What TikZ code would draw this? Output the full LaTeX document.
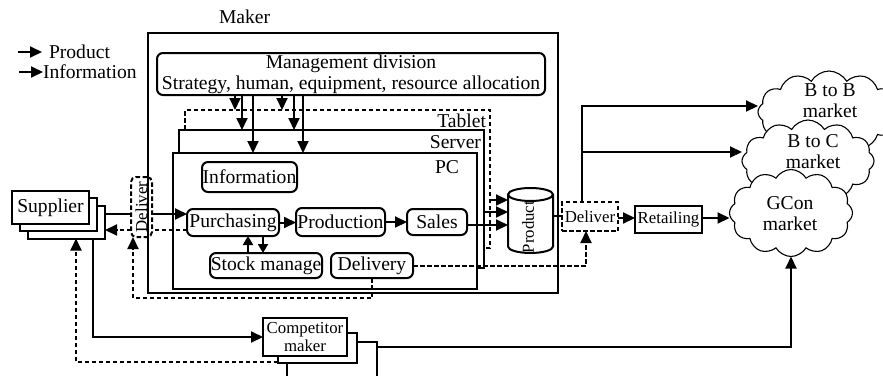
\documentclass[tikz,border=0pt]{standalone}
\usepackage{fontspec}
\setmainfont{Liberation Serif}
\usepackage{graphicx}
\usetikzlibrary{arrows.meta,shapes.symbols,calc}
\newcommand\mainsz{\fontsize{19.6}{21}\selectfont}
\newcommand\smallsz{\fontsize{16.8}{17.5}\selectfont}

\begin{document}
\begin{tikzpicture}[x=1pt,y=-1pt,
  every node/.style={font=\mainsz, inner sep=0pt, outer sep=0pt},
  lw/.style={line width=2pt},
  dsh/.style={line width=2pt, dash pattern=on 4.5pt off 2.5pt},
  box/.style={draw, line width=2pt, fill=white},
  rbox/.style={box, rounded corners=6pt},
  sz/.style 2 args={minimum width=#1, minimum height=#2},
  arr/.style={-{Triangle[length=12pt,width=11pt]}},
  sarr/.style={-{Triangle[length=9pt,width=10pt]}},
  puff/.style={cloud, draw, fill=white, line width=1.1pt, cloud puffs=12,
    cloud puff arc=120, cloud ignores aspect}]
\useasboundingbox (0,0) rectangle (883,375);
\clip (0,0) rectangle (883,375);

% legend
\node[anchor=west] (lgprod) at (49,52) {Product};
\node[anchor=west] (lginfo) at (43,72) {Information};
\coordinate (lgprodtail) at (18,52);
\coordinate (lginfotail) at (19,72);
\draw[lw,arr,shorten >=7pt] (lgprodtail) -- (lgprod.west);
\draw[lw,arr] (lginfotail) -- (lginfo.west);

% maker and its layers
\node[box, sz={410}{260}] (maker) at (353,163) {};
\node[anchor=west] (makerlbl) at (219,17) {Maker};
\node[rbox, sz={388}{42}, align=center] (mgmt) at (351,74)
  {Management division\\Strategy, human, equipment, resource allocation};
\node[box, dsh, sz={305}{138}] (tablet) at (337.5,179) {};
\node[anchor=east] (tabletlbl) at (486,121) {Tablet};
\node[box, sz={305}{138}] (server) at (331.5,199) {};
\node[anchor=east] (serverlbl) at (481,142) {Server};
\node[box, sz={304}{136}] (pc) at (325,221) {};
\node (pclbl) at (447,167) {PC};

% functions on the PC
\node[rbox, sz={95}{30}] (info) at (249.5,177) {Information};
\node[rbox, sz={92}{27}] (purch) at (233,222.5) {Purchasing};
\node[rbox, sz={89}{28}] (produc) at (340.5,222) {Production};
\node[rbox, sz={60}{26}] (sales) at (437,222) {Sales};
\node[rbox, sz={112}{25}] (stock) at (266,265.5) {Stock manage};
\node[rbox, sz={82}{25}] (deliv) at (372,265.5) {Delivery};

% inbound deliver
\node[draw, dsh, rounded corners=5pt, sz={21}{60}, font=\smallsz] (dl) at (141.5,207) {\rotatebox{90}{Deliver}};

% product store
\node[sz={45}{65}] (cyl) at (530.5,220.5) {};
\draw[lw, fill=white] ($(cyl.north west)+(0,6.5)$) -- ($(cyl.south west)+(0,-6.5)$)
  arc[start angle=180, end angle=360, x radius=22.5pt, y radius=6.5pt]
  -- ($(cyl.north east)+(0,6.5)$)
  arc[start angle=0, end angle=180, x radius=22.5pt, y radius=6.5pt] -- cycle;
\draw[lw] ($(cyl.north west)+(0,6.5)$) arc[start angle=180, end angle=360, x radius=22.5pt, y radius=6.5pt];
\node[font=\smallsz] (cyltxt) at (528,227) {\rotatebox{90}{Product}};

% outbound chain
\node[draw, dsh, fill=white, sz={56}{29}, font=\smallsz] (dr) at (590,216.5) {Deliver};
\node[box, sz={67}{27}, font=\smallsz] (retail) at (668.5,219.5) {Retailing};

% suppliers
\node[box, sz={77}{33}] (sup3) at (66.5,222) {};
\node[box, sz={77}{33}] (sup2) at (58.5,214.5) {};
\node[box, sz={77}{33}] (sup1) at (50.5,207.5) {Supplier};

% competitors
\node[box, sz={90}{45}] (comp3) at (332,364.5) {};
\node[box, sz={79}{30}] (comp2) at (317.5,348) {};
\node[box, sz={84}{38}, font=\smallsz, align=center] (comp1) at (305,337) {Competitor\\maker};

% markets
\node[puff, sz={142}{82}] (bb) at (829,112) {};
\node[puff, sz={132}{82}] (bc) at (808,161) {};
\node[puff, sz={123}{87}] (gc) at (791,213) {};
\node[align=center] (bbtxt) at (830,101) {B to B\\market};
\node[align=center] (bctxt) at (813,152) {B to C\\market};
\node[align=center] (gctxt) at (790,214) {GCon\\market};

% helper positions
\coordinate (xm1) at (235,0); \coordinate (xm2) at (242,0); \coordinate (xm3) at (253,0);
\coordinate (xm4) at (282,0); \coordinate (xm5) at (294,0); \coordinate (xm6) at (303,0);
\coordinate (x248) at (248,0); \coordinate (x263) at (263,0);
\coordinate (x582) at (582,0); \coordinate (x586) at (586,0);
\coordinate (x133) at (133,0); \coordinate (x93) at (93,0); \coordinate (x76) at (76,0);
\coordinate (y106) at (0,106); \coordinate (y152) at (0,152);
\coordinate (y200) at (0,200); \coordinate (y212) at (0,212); \coordinate (y225) at (0,225);
\coordinate (y214) at (0,214); \coordinate (y216) at (0,216); \coordinate (y218) at (0,218);
\coordinate (y230) at (0,230); \coordinate (y298) at (0,298);
\coordinate (y347) at (0,347); \coordinate (y362) at (0,362);

% management directives
\draw[lw,arr] (mgmt.south -| xm1) -- (tablet.north -| xm1);
\draw[lw,arr] (mgmt.south -| xm2) -- (server.north -| xm2);
\draw[lw,arr] (mgmt.south -| xm3) -- (pc.north -| xm3);
\draw[lw,arr] (mgmt.south -| xm4) -- (tablet.north -| xm4);
\draw[lw,arr] (mgmt.south -| xm5) -- (server.north -| xm5);
\draw[lw,arr] (mgmt.south -| xm6) -- (pc.north -| xm6);

% internal flow
\draw[lw,arr] (purch.east) -- (produc.west |- purch.east);
\draw[lw,arr] (produc.east) -- (sales.west |- produc.east);
\draw[lw,sarr] (stock.north -| x248) -- (purch.south -| x248);
\draw[lw,sarr] (purch.south -| x263) -- (stock.north -| x263);

% into the product store
\draw[lw,arr] (tablet.east |- y200) -- (cyl.west |- y200);
\draw[lw,arr] (server.east |- y212) -- (cyl.west |- y212);
\draw[lw,arr] (sales.east |- y225) -- (cyl.west |- y225);

% to the markets
\draw[lw] (cyl.east |- y216) -- (dr.west |- y216);
\draw[lw,arr] (dr.east |- y218) -- (retail.west |- y218);
\draw[lw,arr] (retail.east |- y218) -- (gc.west |- y218);
\draw[lw,arr] (dr.north -| x582) |- (bb.west |- y106);
\draw[lw,arr] (x582 |- y152) -- (bc.west |- y152);

% delivery information
\draw[dsh,arr] (deliv.east) -| (dr.south -| x586);
\draw[dsh,arr] (deliv.south) |- (x133 |- y298) -- (dl.south -| x133);

% supplier links
\draw[lw] (sup3.east |- y214) -- (dl.west |- y214);
\draw[lw,arr] (dl.east |- y214) -- (purch.west |- y214);
\draw[dsh] (purch.west |- y230) -- (dl.east |- y230);
\draw[dsh,arr] (dl.west |- y230) -- (sup3.east |- y230);

% competitor links
\draw[lw,arr] (sup3.south -| x93) |- (comp1.west);
\draw[dsh,arr] (comp2.west |- y362) -| (sup3.south -| x76);
\draw[lw,arr] (comp3.east |- y347) -| (gc.south);
\end{tikzpicture}
\end{document}
